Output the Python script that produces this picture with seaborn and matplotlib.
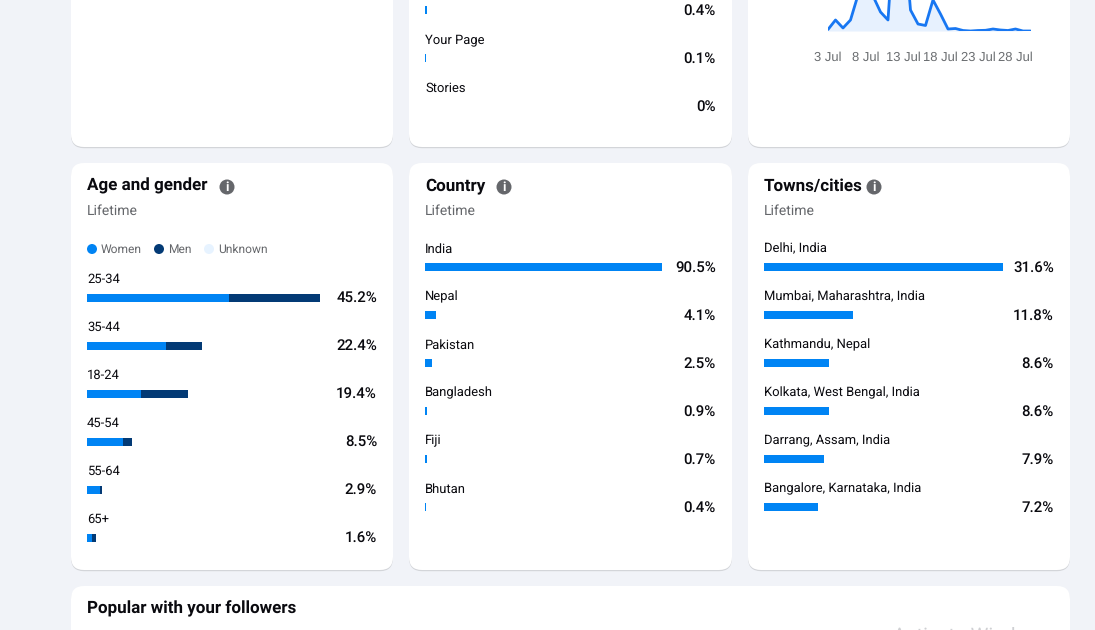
import matplotlib
matplotlib.use('Agg')
import matplotlib.pyplot as plt
from matplotlib.patches import FancyBboxPatch, Circle
import seaborn as sns

W, H = 1095, 630
BG = '#f1f3f8'
BLUE = '#0084f4'
NAVY = '#033a75'
GREY = '#65676b'
BLACK = '#0a0a0f'

# top row, middle card (the first label is cut off by the screenshot)
source_names = ['', 'Your Page', 'Stories']
source_values = [0.4, 0.1, 0]
source_labels = ['0.4%', '0.1%', '0%']

# top row, right card
days = [3, 4, 5, 6, 7, 8, 9, 10, 11, 12, 13, 14, 15, 16, 17, 18,
        19, 20, 21, 22, 23, 24, 25, 26, 27, 28, 29, 30]
reach = [1.5, 11, 3, 11, 36, 45, 35, 19, 11, 123, 111, 21, 7, 5.5, 31, 17,
         2, 2.5, 0.5, 0, 0.5, 0.7, 2, 1, 0.5, 2, 0, 0]
day_ticks = [3, 8, 13, 18, 23, 28]
day_labels = ['3 Jul', '8 Jul', '13 Jul', '18 Jul', '23 Jul', '28 Jul']

# age and gender
ages = ['25-34', '35-44', '18-24', '45-54', '55-64', '65+']
age_women = [27.5, 15.4, 10.5, 7.0, 2.5, 1.0]
age_men = [17.7, 7.0, 9.1, 1.7, 0.4, 0.7]
age_labels = ['45.2%', '22.4%', '19.4%', '8.5%', '2.9%', '1.6%']

# country
countries = ['India', 'Nepal', 'Pakistan', 'Bangladesh', 'Fiji', 'Bhutan']
country_values = [90.5, 4.1, 2.5, 0.9, 0.7, 0.4]

# towns
towns = ['Delhi, India', 'Mumbai, Maharashtra, India', 'Kathmandu, Nepal',
         'Kolkata, West Bengal, India', 'Darrang, Assam, India',
         'Bangalore, Karnataka, India']
town_values = [31.6, 11.8, 8.6, 8.6, 7.9, 7.2]

sns.set_theme(style='white')
plt.rcParams['font.family'] = ['Roboto', 'DejaVu Sans']
plt.rcParams['text.hinting'] = 'no_hinting'
plt.rcParams['text.hinting_factor'] = 1

fig = plt.figure(figsize=(W / 100, H / 100), dpi=100, facecolor=BG)


def px_axes(left, top, width, height, z=2):
    # axes placed in screenshot pixels
    ax = fig.add_axes([left / W, 1 - (top + height) / H, width / W, height / H], zorder=z)
    ax.patch.set_visible(False)
    return ax


back = px_axes(0, 0, W, H, z=0)
back.set_xlim(0, W)
back.set_ylim(H, 0)
back.axis('off')


def card(x0, y0, x1, y1):
    r = 13
    for off, col, z in [(1.2, '#d3d5d9', 1), (0, 'white', 2)]:
        back.add_patch(FancyBboxPatch((x0 + r, y0 + r + off), x1 - x0 - 2 * r, y1 - y0 - 2 * r,
                                      boxstyle='round,pad=%d,rounding_size=%d' % (r, r),
                                      fc=col, ec='none', zorder=z))


def label(x, y, s, size=9.4, color=BLACK, ha='left', weight='normal'):
    back.text(x, y, s, fontsize=size, color=color, ha=ha, va='center', fontweight=weight, zorder=5)


def value(x, y, s):
    label(x, y + 0.7, s, size=11, ha='right', weight='medium')


def info(x, y):
    back.add_patch(Circle((x, y), 7.5, fc=GREY, ec='none', zorder=5))
    back.text(x, y, 'i', color='white', fontsize=9, fontweight='bold', ha='center', va='center', zorder=6)


def heading(x, s, icon_x, size=12.4):
    label(x, 186, s, size=size, weight='bold')
    label(x, 211.5, 'Lifetime', size=10.4, color=GREY)
    info(icon_x, 187)


def bars(x, first_y, names, values, max_px, max_val, color=BLUE):
    ax = px_axes(x, first_y - 24, max_px, 48 * len(names))
    sns.barplot(x=values, y=list(range(len(names))), orient='h', color=color,
                saturation=1, width=8 / 48, linewidth=0, ax=ax)
    ax.set_xlim(0, max_val)
    ax.set_ylim(len(names) - 0.5, -0.5)
    ax.axis('off')


for x0, x1 in [(71, 393), (409, 732), (748, 1070)]:
    card(x0, -60, x1, 147)
    card(x0, 163, x1, 570)
card(71, 586, 1070, 700)

# top middle
bars(425, 10, source_names, source_values, 24, 4)
for i, (n, v) in enumerate(zip(source_names, source_labels)):
    if n:
        label(425, 40 + 48 * (i - 1), n)
    value(716, 10 + 48 * i, v)

# top right
ax = px_axes(828, -100, 202.5, 131)
sns.lineplot(x=days, y=reach, color='#1877f2', linewidth=2, ax=ax)
ax.fill_between(days, reach, 0, color='#e7f1fe', lw=0, zorder=1)
ax.set_xlim(3, 30)
ax.set_ylim(0, 131)
ax.set_xticks(day_ticks)
ax.set_xticklabels(day_labels, fontsize=9.3, color='#6a6d70', family='Liberation Sans')
ax.set_yticks([])
ax.tick_params(axis='x', length=0, pad=14.5)
sns.despine(ax=ax, left=True, bottom=True)

# age and gender
heading(87, 'Age and gender', 227, size=12.6)
for x, col, s in [(92, BLUE, 'Women'), (159, NAVY, 'Men'), (209, '#e7f3ff', 'Unknown')]:
    back.add_patch(Circle((x, 249), 5, fc=col, ec='none', zorder=5))
    label(x + 9, 250, s, size=8.8, color=GREY)
age_total = [w + m for w, m in zip(age_women, age_men)]
bars(87, 298, ages, age_total, 233, 45.2, color=NAVY)
bars(87, 298, ages, age_women, 233, 45.2, color=BLUE)
for i, (n, v) in enumerate(zip(ages, age_labels)):
    label(87, 279 + 48 * i, n)
    value(377, 297 + 48 * i, v)

# country
heading(425, 'Country', 504)
bars(425, 267, countries, country_values, 237, 90.5)
for i, (n, v) in enumerate(zip(countries, country_values)):
    label(425, 249 + 48 * i, n)
    value(716, 267 + 48 * i, '%.1f%%' % v)

# towns
heading(764, 'Towns/cities', 874, size=12)
bars(764, 267, towns, town_values, 239, 31.6)
for i, (n, v) in enumerate(zip(towns, town_values)):
    label(764, 249 + 48 * i, n)
    value(1054, 267 + 48 * i, '%.1f%%' % v)

label(87, 609, 'Popular with your followers', size=12.5, weight='bold')
back.text(893, 636, 'Activate Windows', fontsize=14.4, color='#cfd0d3', ha='left', va='center', zorder=5)

fig.savefig('out.png', dpi=100, facecolor=BG)
